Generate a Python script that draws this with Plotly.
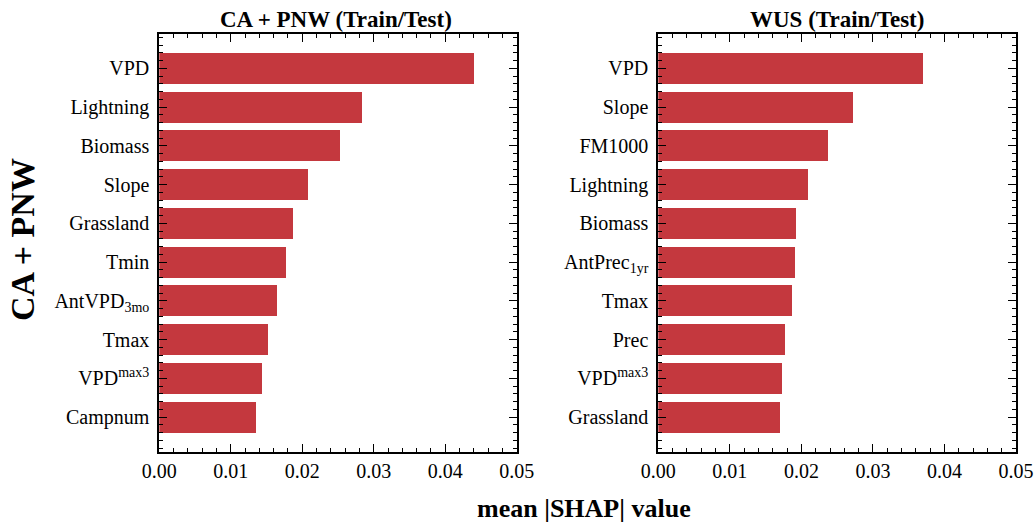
import plotly.graph_objects as go

# ---- data ----
left_features = ["VPD", "Lightning", "Biomass", "Slope", "Grassland", "Tmin",
                 "AntVPD<sub>3mo</sub>", "Tmax", "VPD<sup>max3</sup>", "Campnum"]
left_values = [0.0440, 0.0284, 0.0253, 0.0208, 0.0188, 0.0178, 0.0165, 0.0152, 0.0144, 0.0135]

right_features = ["VPD", "Slope", "FM1000", "Lightning", "Biomass",
                  "AntPrec<sub>1yr</sub>", "Tmax", "Prec", "VPD<sup>max3</sup>", "Grassland"]
right_values = [0.0370, 0.0272, 0.0237, 0.0209, 0.0193, 0.0192, 0.0187, 0.0177, 0.0173, 0.0170]

left_title = "CA + PNW (Train/Test)"
right_title = "WUS (Train/Test)"
row_label = "CA + PNW"
x_label = "mean |SHAP| value"
x_ticks = [0.00, 0.01, 0.02, 0.03, 0.04, 0.05]

BAR_COLOR = "#c4383e"
FONT = "Liberation Serif"

fig = go.Figure()
fig.add_trace(go.Bar(orientation="h", x=left_values, y=list(range(len(left_values))),
                     width=0.8, marker=dict(color=BAR_COLOR, line=dict(width=0)),
                     xaxis="x", yaxis="y", showlegend=False))
fig.add_trace(go.Bar(orientation="h", x=right_values, y=list(range(len(right_values))),
                     width=0.8, marker=dict(color=BAR_COLOR, line=dict(width=0)),
                     xaxis="x2", yaxis="y2", showlegend=False))

W, H = 1034, 525
def xd(a, b):
    return [a / W, b / W]
ydom = [1 - 451.7 / H, 1 - 34 / H]

common_x = dict(range=[0, 0.05], tickvals=x_ticks, tickformat=".2f", automargin=False,
                ticks="inside", ticklen=8, tickwidth=1.2, tickcolor="black",
                showline=True, linewidth=2, linecolor="black", mirror="allticks",
                showgrid=False, zeroline=False,
                minor=dict(ticks="inside", ticklen=4, tickwidth=1, tickcolor="black",
                           dtick=0.002, showgrid=False),
                tickfont=dict(family=FONT, size=20, color="black"))

def common_y(labels):
    return dict(range=[len(labels) - 0.11, -0.89], tickvals=list(range(len(labels))),
                ticktext=labels, ticks="inside", ticklen=8, tickwidth=1.2, tickcolor="black",
                showline=True, linewidth=2, linecolor="black", mirror="allticks",
                showgrid=False, zeroline=False, ticklabelstandoff=4, automargin=False,
                minor=dict(ticks="inside", ticklen=4, tickwidth=1, tickcolor="black",
                           dtick=0.2, tick0=0, showgrid=False),
                tickfont=dict(family=FONT, size=20, color="black"))

def ann(text, x, y, size, angle=0):
    return dict(text="<b>" + text + "</b>", x=x / W, y=1 - y / H, xref="paper", yref="paper",
                xanchor="center", yanchor="middle", showarrow=False, textangle=angle,
                font=dict(family=FONT, size=size, color="black"))

fig.update_layout(
    width=W, height=H,
    margin=dict(l=0, r=0, t=0, b=0, pad=0),
    paper_bgcolor="white", plot_bgcolor="white",
    xaxis=dict(domain=xd(159.3, 516.7), anchor="y", **common_x),
    yaxis=dict(domain=ydom, anchor="x", **common_y(left_features)),
    xaxis2=dict(domain=xd(658.3, 1016), anchor="y2", **common_x),
    yaxis2=dict(domain=ydom, anchor="x2", **common_y(right_features)),
    bargap=0,
    annotations=[
        ann(left_title, 336, 20, 23),
        ann(right_title, 837, 20, 23),
        ann(row_label, 23, 240, 34, -90),
        ann(x_label, 584, 508, 26),
    ],
)

fig.write_html("out.html", config={"displayModeBar": False},
               post_script="document.body.style.margin='0';document.body.style.padding='0';")
